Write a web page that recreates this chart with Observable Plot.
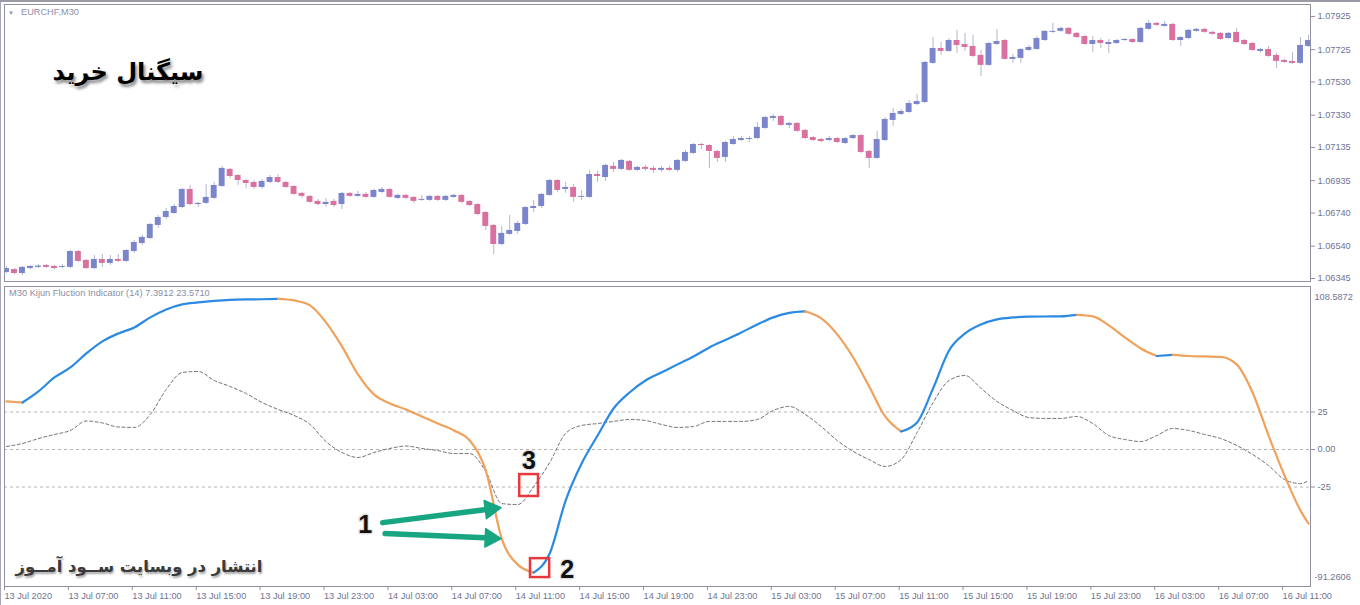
<!DOCTYPE html>
<html><head><meta charset="utf-8">
<script src="https://cdn.jsdelivr.net/npm/d3@7"></script>
<script src="https://cdn.jsdelivr.net/npm/@observablehq/plot@0.6"></script>
<style>
body{margin:0;background:#fff;}
#wrap{position:relative;width:1360px;height:605px;overflow:hidden;background:#fff;font-family:"Liberation Sans",Arial,sans-serif;}
#wrap svg{position:absolute;left:0;}
.ov{position:absolute;white-space:nowrap;line-height:1;}
#edgeL{position:absolute;left:0;top:0;width:1px;height:605px;background:#a8a8b4;}
#edgeT{position:absolute;left:0;top:0;width:1360px;height:2px;background:#9a9aa6;}
</style></head><body><div id="wrap"><div id="edgeL"></div><div id="edgeT"></div></div>
<script>
// ---- EURCHF M30 candles (index 0..163) ----
const open = [
1.06381,1.06399,1.06375,1.06405,1.06412,1.06424,1.06418,1.06412,1.06412,1.06508,
1.06454,1.06405,1.06460,1.06436,1.06460,1.06448,1.06508,1.06556,1.06586,1.06665,
1.06713,1.06737,1.06773,1.06882,1.06791,1.06798,1.06828,1.06900,1.07003,1.06966,
1.06936,1.06924,1.06894,1.06924,1.06954,1.06924,1.06900,1.06858,1.06840,1.06810,
1.06791,1.06810,1.06791,1.06858,1.06840,1.06852,1.06834,1.06864,1.06882,1.06828,
1.06846,1.06834,1.06816,1.06816,1.06840,1.06816,1.06834,1.06846,1.06810,1.06791,
1.06743,1.06665,1.06550,1.06611,1.06629,1.06671,1.06767,1.06779,1.06846,1.06936,
1.06882,1.06894,1.06834,1.06834,1.06972,1.06954,1.07021,1.07003,1.07051,1.06997,
1.07015,1.07009,1.06997,1.07009,1.06997,1.07051,1.07099,1.07153,1.07147,1.07111,
1.07075,1.07153,1.07177,1.07183,1.07189,1.07250,1.07310,1.07322,1.07268,1.07280,
1.07238,1.07195,1.07183,1.07177,1.07189,1.07159,1.07189,1.07207,1.07111,1.07069,
1.07177,1.07298,1.07334,1.07346,1.07394,1.07406,1.07642,1.07732,1.07714,1.07780,
1.07756,1.07744,1.07690,1.07630,1.07756,1.07780,1.07666,1.07672,1.07720,1.07726,
1.07780,1.07829,1.07835,1.07853,1.07823,1.07804,1.07756,1.07780,1.07756,1.07762,
1.07780,1.07786,1.07768,1.07847,1.07883,1.07865,1.07877,1.07780,1.07792,1.07835,
1.07847,1.07829,1.07823,1.07792,1.07829,1.07780,1.07762,1.07714,1.07726,1.07690,
1.07660,1.07654,1.07642,1.07744];
const high = [
1.06418,1.06405,1.06418,1.06424,1.06430,1.06430,1.06424,1.06430,1.06514,1.06514,
1.06460,1.06484,1.06490,1.06484,1.06490,1.06520,1.06574,1.06605,1.06677,1.06725,
1.06767,1.06791,1.06888,1.06906,1.06804,1.06912,1.06924,1.07021,1.07009,1.06972,
1.06942,1.06936,1.06942,1.06966,1.06972,1.06930,1.06906,1.06864,1.06846,1.06822,
1.06828,1.06822,1.06864,1.06864,1.06870,1.06864,1.06882,1.06894,1.06888,1.06852,
1.06852,1.06840,1.06846,1.06846,1.06846,1.06846,1.06852,1.06852,1.06816,1.06798,
1.06749,1.06671,1.06659,1.06725,1.06689,1.06779,1.06816,1.06858,1.06942,1.06942,
1.06924,1.06912,1.06876,1.06997,1.06991,1.07033,1.07045,1.07063,1.07057,1.07021,
1.07027,1.07021,1.07021,1.07021,1.07063,1.07117,1.07159,1.07159,1.07153,1.07117,
1.07171,1.07201,1.07201,1.07201,1.07286,1.07322,1.07334,1.07328,1.07286,1.07286,
1.07244,1.07201,1.07189,1.07201,1.07195,1.07195,1.07213,1.07213,1.07117,1.07232,
1.07316,1.07370,1.07364,1.07418,1.07455,1.07654,1.07798,1.07768,1.07792,1.07841,
1.07823,1.07811,1.07720,1.07768,1.07847,1.07786,1.07696,1.07732,1.07750,1.07804,
1.07841,1.07883,1.07859,1.07859,1.07829,1.07811,1.07804,1.07792,1.07786,1.07786,
1.07792,1.07792,1.07859,1.07901,1.07889,1.07895,1.07883,1.07804,1.07847,1.07853,
1.07853,1.07835,1.07829,1.07829,1.07853,1.07786,1.07768,1.07732,1.07744,1.07702,
1.07666,1.07708,1.07798,1.07811];
const low = [
1.06375,1.06369,1.06363,1.06399,1.06405,1.06405,1.06399,1.06405,1.06405,1.06442,
1.06399,1.06399,1.06412,1.06424,1.06442,1.06442,1.06496,1.06544,1.06580,1.06647,
1.06701,1.06731,1.06767,1.06785,1.06773,1.06791,1.06822,1.06894,1.06948,1.06906,
1.06888,1.06882,1.06882,1.06918,1.06918,1.06888,1.06846,1.06828,1.06798,1.06785,
1.06773,1.06773,1.06761,1.06834,1.06834,1.06828,1.06828,1.06858,1.06828,1.06822,
1.06822,1.06798,1.06810,1.06810,1.06810,1.06810,1.06828,1.06798,1.06779,1.06725,
1.06635,1.06490,1.06544,1.06605,1.06611,1.06665,1.06743,1.06767,1.06840,1.06864,
1.06858,1.06804,1.06816,1.06828,1.06924,1.06930,1.06985,1.06997,1.06991,1.06991,
1.06991,1.06979,1.06985,1.06991,1.06985,1.07045,1.07093,1.07123,1.07009,1.07045,
1.07045,1.07147,1.07171,1.07165,1.07183,1.07244,1.07292,1.07262,1.07250,1.07226,
1.07183,1.07171,1.07165,1.07171,1.07159,1.07153,1.07183,1.07099,1.07009,1.07063,
1.07171,1.07262,1.07328,1.07340,1.07388,1.07400,1.07636,1.07690,1.07708,1.07702,
1.07714,1.07678,1.07563,1.07624,1.07750,1.07660,1.07642,1.07642,1.07714,1.07720,
1.07774,1.07823,1.07829,1.07811,1.07792,1.07750,1.07708,1.07732,1.07702,1.07756,
1.07774,1.07762,1.07762,1.07841,1.07865,1.07859,1.07774,1.07744,1.07786,1.07829,
1.07823,1.07811,1.07780,1.07786,1.07762,1.07750,1.07714,1.07702,1.07678,1.07611,
1.07642,1.07636,1.07636,1.07738];
const close = [
1.06405,1.06375,1.06412,1.06418,1.06420,1.06412,1.06405,1.06418,1.06508,1.06448,
1.06405,1.06460,1.06436,1.06460,1.06448,1.06514,1.06562,1.06593,1.06671,1.06713,
1.06749,1.06779,1.06882,1.06791,1.06798,1.06834,1.06906,1.07009,1.06960,1.06936,
1.06918,1.06894,1.06930,1.06954,1.06924,1.06894,1.06852,1.06840,1.06804,1.06791,
1.06804,1.06785,1.06858,1.06840,1.06852,1.06834,1.06876,1.06882,1.06834,1.06846,
1.06828,1.06810,1.06822,1.06840,1.06816,1.06840,1.06846,1.06804,1.06785,1.06731,
1.06659,1.06550,1.06617,1.06635,1.06677,1.06773,1.06779,1.06852,1.06936,1.06876,
1.06894,1.06834,1.06840,1.06972,1.06960,1.07027,1.07003,1.07057,1.06997,1.07015,
1.07003,1.06997,1.07009,1.06997,1.07057,1.07105,1.07153,1.07147,1.07111,1.07069,
1.07165,1.07183,1.07189,1.07189,1.07256,1.07316,1.07322,1.07268,1.07280,1.07232,
1.07189,1.07177,1.07171,1.07189,1.07165,1.07189,1.07207,1.07105,1.07069,1.07183,
1.07304,1.07340,1.07352,1.07400,1.07412,1.07648,1.07732,1.07714,1.07780,1.07750,
1.07738,1.07684,1.07630,1.07762,1.07774,1.07666,1.07678,1.07726,1.07738,1.07792,
1.07835,1.07835,1.07853,1.07817,1.07798,1.07756,1.07780,1.07762,1.07768,1.07780,
1.07786,1.07768,1.07853,1.07883,1.07871,1.07877,1.07780,1.07798,1.07841,1.07847,
1.07829,1.07817,1.07786,1.07823,1.07768,1.07756,1.07720,1.07726,1.07684,1.07654,
1.07648,1.07642,1.07750,1.07780];
const priceTicks = [1.07925,1.07725,1.07530,1.07330,1.07135,1.06935,1.06740,1.06540,1.06345];

// ---- Kijun Fluction Indicator (sampled at bar indices) ----
const indIdx = [0,2,4,6,8,10,12,14,16,18,20,22,24,26,28,30,32,34,36,38,40,42,44,46,48,50,52,54,56,58,60,62,64,66,68,70,72,74,76,78,80,82,84,86,88,90,92,94,96,98,100,102,104,106,108,110,112,114,116,118,120,122,124,126,128,130,132,134,136,138,140,142,144,146,148,150,152,154,156,158,160,162,163];
const kijun = [32.0,31.3,38.7,48.0,54.7,64.0,72.0,77.3,81.3,88.0,
93.3,96.7,98.0,99.0,99.7,100.0,100.1,100.3,99.3,96.0,
84.7,68.7,50.0,36.7,30.7,26.7,22.0,17.3,12.7,6.0,
-14.0,-59.3,-76.7,-82.0,-69.3,-34.0,-9.3,9.3,27.3,38.0,
46.0,51.3,56.7,62.0,68.0,73.0,78.0,83.3,88.0,91.0,
92.0,87.3,76.7,61.3,42.0,22.0,12.0,18.0,40.7,66.0,
77.3,83.3,86.7,88.0,88.5,88.6,88.7,89.7,88.7,82.7,
74.7,67.3,62.3,63.0,62.3,62.0,61.7,56.7,38.0,9.3,
-17.3,-40.7,-49.3];
const signal = [2.0,4.0,7.3,10.0,12.7,19.0,17.7,15.0,14.7,23.3,
40.0,51.3,52.0,46.0,42.0,37.3,31.3,26.7,22.7,16.7,
5.3,-2.0,-5.3,-2.0,0.7,2.3,0.7,-0.7,-2.7,-2.7,
-14.7,-36.0,-36.7,-24.7,-8.7,10.7,16.0,17.3,18.7,20.0,
19.3,16.7,14.7,15.3,18.7,18.7,18.7,20.0,26.0,28.7,
23.3,15.3,6.0,-1.3,-6.7,-11.3,-6.7,11.3,31.3,46.0,
49.3,40.7,32.0,26.0,21.3,20.7,20.7,22.0,17.3,9.3,
6.7,5.3,9.3,14.0,12.7,10.0,7.3,2.7,-3.3,-10.7,
-20.0,-22.7,-20.7];
const levels = [25, 0, -25];
const indMax = 108.5872, indMin = -91.2606;

// ---- time axis ----
const timeIdx = [0,8,16,24,32,40,48,56,64,72,80,88,96,104,112,120,128,136,144,152,160];
const timeLabels = ["13 Jul 2020","13 Jul 07:00","13 Jul 11:00","13 Jul 15:00","13 Jul 19:00","13 Jul 23:00","14 Jul 03:00","14 Jul 07:00","14 Jul 11:00","14 Jul 15:00","14 Jul 19:00","14 Jul 23:00","15 Jul 03:00","15 Jul 07:00","15 Jul 11:00","15 Jul 15:00","15 Jul 19:00","15 Jul 23:00","16 Jul 03:00","16 Jul 07:00","16 Jul 11:00"];

// ---- annotations (bar index / indicator units) ----
const arrowX1 = [47.1, 47.4], arrowY1 = [-48.7, -56.0], arrowX2 = [60.6, 60.6], arrowY2 = [-39.6, -59.0];
const headX = [60.6, 60.6], headY = [-39.6, -59.0], headRotate = [82.6, 92.5];
const boxX1 = [64.25, 65.6], boxX2 = [66.6, 68.0], boxY1 = [-16.7, -72.7], boxY2 = [-31.3, -85.3];
const numText = ["1", "2", "3"], numX = [44.9, 70.2, 65.4], numY = [-50.0, -80.0, -7.5];

const UP = "#7b85cc", DN = "#d9709f", WICK = "#b3b6c8";
const BLUE = "#2b8ae2", ORANGE = "#f0a25c", GREEN = "#18a582", RED = "#e8383e";
const AX = "#6f7392", FR = "#8f90a2";
const FONT = "'Liberation Sans', Arial, sans-serif";

const candles = close.map((c, i) => ({i, o: open[i], h: high[i], l: low[i], c}));
const ind = indIdx.map((i, k) => ({
  i, v: kijun[k], d: signal[k],
  s: (k < kijun.length - 1 ? kijun[k + 1] >= kijun[k] : kijun[k] >= kijun[k - 1]) ? "up" : "down"
}));
const arrows = arrowX1.map((x, k) => ({x1: x, y1: arrowY1[k], x2: arrowX2[k], y2: arrowY2[k]}));
const heads = headX.map((x, k) => ({x, y: headY[k], r: headRotate[k]}));
const boxes = boxX1.map((x, k) => ({x1: x, x2: boxX2[k], y1: boxY1[k], y2: boxY2[k]}));
const nums = numText.map((t, k) => ({t, x: numX[k], y: numY[k]}));

const wrap = document.getElementById("wrap");
const xDom = [-0.25, 163.25];

const topPlot = Plot.plot({
  width: 1360, height: 284, marginLeft: 4, marginRight: 50, marginTop: 4, marginBottom: 3,
  x: {domain: xDom, axis: null},
  y: {domain: [1.06327, 1.07997], axis: null},
  color: {domain: ["up", "down"], range: [UP, DN]},
  style: {fontFamily: FONT, fontSize: "9.2px", color: AX, background: "transparent", overflow: "visible"},
  marks: [
    Plot.ruleX(candles, {x: "i", y1: "l", y2: "h", stroke: WICK, strokeWidth: 1, clip: true}),
    Plot.rect(candles, {x1: d => d.i - 0.37, x2: d => d.i + 0.37, y1: "o", y2: "c",
      fill: d => d.c >= d.o ? "up" : "down", clip: true}),
    Plot.frame({stroke: FR}),
    Plot.axisY(priceTicks, {anchor: "right", tickSize: 4, tickPadding: 3, tickFormat: d => d.toFixed(5),
      stroke: FR, fill: AX, fontSize: 9.2})
  ]
});
topPlot.style.top = "0px";
wrap.appendChild(topPlot);

const botPlot = Plot.plot({
  width: 1360, height: 321, marginLeft: 4, marginRight: 50, marginTop: 2, marginBottom: 19,
  x: {domain: xDom, axis: null},
  y: {domain: [indMin, indMax], axis: null},
  color: {domain: ["up", "down"], range: [BLUE, ORANGE]},
  style: {fontFamily: FONT, fontSize: "9.2px", color: AX, background: "transparent", overflow: "visible"},
  marks: [
    Plot.ruleY(levels, {stroke: "#b4b4b8", strokeDasharray: "3,3", strokeWidth: 1}),
    Plot.line(ind, {x: "i", y: "d", stroke: "#5f5f66", strokeWidth: 0.9, strokeDasharray: "3,2.5", curve: "monotone-x"}),
    Plot.line(ind, {x: "i", y: "v", z: null, stroke: "s", strokeWidth: 2.2, curve: "monotone-x"}),
    Plot.frame({stroke: FR}),
    Plot.axisY(levels, {anchor: "right", tickSize: 4, tickPadding: 3, tickFormat: d => d === 0 ? "0.00" : String(d),
      stroke: FR, fill: AX, fontSize: 9.2}),
    Plot.text([indMax.toFixed(4)], {text: d => d, frameAnchor: "top-right", textAnchor: "start", dx: 4, dy: 7, fill: AX, fontSize: 9.2}),
    Plot.text([indMin.toFixed(4)], {text: d => d, frameAnchor: "bottom-right", textAnchor: "start", dx: 4, dy: -7, fill: AX, fontSize: 9.2}),
    Plot.axisX(timeIdx, {anchor: "bottom", tickSize: 4, tickPadding: 2, textAnchor: "start", dx: -2,
      tickFormat: d => timeLabels[timeIdx.indexOf(d)], stroke: FR, fill: AX, fontSize: 9.2}),
    Plot.link(arrows, {x1: "x1", y1: "y1", x2: "x2", y2: "y2", stroke: GREEN, strokeWidth: 5.5, strokeLinecap: "round"}),
    Plot.dot(heads, {x: "x", y: "y", symbol: "triangle", r: 6.8, rotate: "r", fill: GREEN, stroke: GREEN, strokeWidth: 1.5, strokeLinejoin: "round"}),
    Plot.rect(boxes, {x1: "x1", x2: "x2", y1: "y1", y2: "y2", fill: "none", stroke: RED, strokeWidth: 2.5}),
    Plot.text(nums, {x: "x", y: "y", text: "t", fontSize: 25, fontWeight: "bold", fill: "#111",
      fontFamily: FONT, stroke: "rgba(0,0,0,0.12)", strokeWidth: 3})
  ]
});
botPlot.style.top = "284px";
wrap.appendChild(botPlot);

// ---- overlay texts ----
function place(text, o) {
  const el = document.createElement("div");
  el.className = "ov";
  el.textContent = text;
  el.style.fontFamily = o.font;
  el.style.fontWeight = o.weight || "normal";
  el.style.fontSize = o.size + "px";
  el.style.color = o.color;
  if (o.shadow) el.style.textShadow = o.shadow;
  if (o.dir) el.dir = o.dir;
  wrap.appendChild(el);
  let r = el.getBoundingClientRect();
  el.style.fontSize = (o.size * o.w / r.width) + "px";
  r = el.getBoundingClientRect();
  const left = o.left !== undefined ? o.left : o.cx - r.width / 2;
  el.style.left = left + "px";
  el.style.top = (o.cy - r.height / 2) + "px";
  return el;
}
place("\u25BC", {left: 8, cy: 13, w: 6, size: 6, font: FONT, color: "#8a90aa"});
place("EURCHF,M30", {left: 21, cy: 13, w: 58, size: 10, font: FONT, color: "#8a90aa"});
place("M30 Kijun Fluction Indicator (14) 7.3912 23.5710", {left: 9, cy: 294, w: 201, size: 10, font: FONT, color: "#8c8ea0"});
place("سیگنال خرید", {cx: 128, cy: 72, w: 151, size: 26, weight: "bold", font: "'DejaVu Sans', sans-serif",
  color: "#000", dir: "rtl", shadow: "2px 3px 3px rgba(0,0,0,0.45)"});
place("انتشار در وبسایت ســود آمــوز", {cx: 139, cy: 567, w: 247, size: 17, weight: "bold", font: "'DejaVu Sans', sans-serif",
  color: "#3a3a3a", dir: "rtl", shadow: "1px 2px 2px rgba(0,0,0,0.35)"});
</script>
</body></html>
